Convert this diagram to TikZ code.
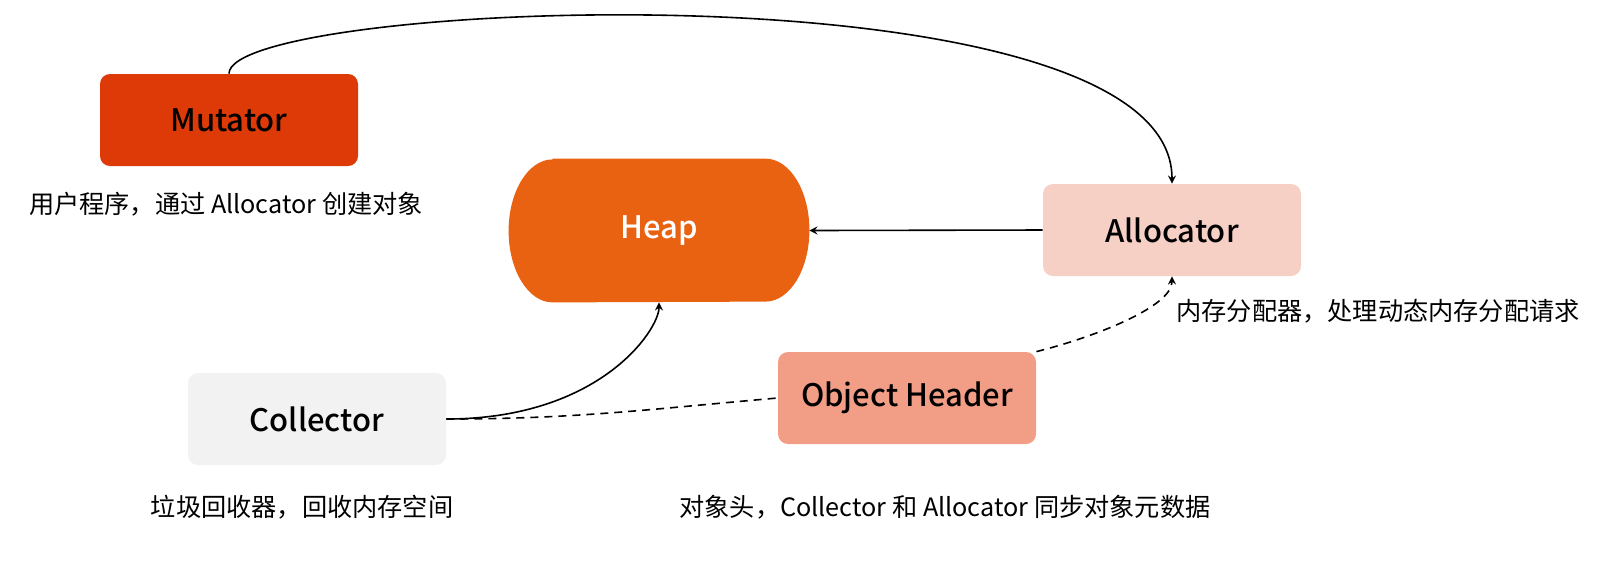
\documentclass[tikz,border=0pt]{standalone}
\usepackage{fontspec}
\setmainfont{Noto Sans CJK SC}
\newfontfamily\boxfont{Noto Sans CJK SC Medium}
\usetikzlibrary{backgrounds}

\definecolor{mutatorc}{HTML}{DD3A08}
\definecolor{heapc}{HTML}{E86212}
\definecolor{allocc}{HTML}{F6D0C5}
\definecolor{collectc}{HTML}{F2F2F2}
\definecolor{headerc}{HTML}{F29E86}

\begin{document}
\begin{tikzpicture}[x=0.5pt,y=0.5pt,>=stealth,
  box/.style={rounded corners=5pt,minimum width=129pt,minimum height=46pt,
    font=\fontsize{15.5}{18}\boxfont},
  note/.style={font=\fontsize{12.6}{15}\selectfont},
  link/.style={line width=0.8pt},
  weak/.style={line width=0.8pt,dash pattern=on 4pt off 3pt}]

  \useasboundingbox (0,0) rectangle (1600,-570);

  \node[box,fill=mutatorc] (mutator) at (229,-120) {Mutator};
  \node[box,fill=allocc] (alloc) at (1172,-230) {Allocator};
  \node[box,fill=collectc] (collector) at (317,-419) {Collector};
  \node[box,fill=headerc] (header) at (907,-398) {Object Header};

  \node[inner sep=0pt,minimum width=150pt,minimum height=71.5pt,text=white,
    font=\fontsize{15.5}{18}\boxfont] (heap) at (659,-230.5) {Heap};
  \begin{scope}[on background layer]
    \fill[heapc] ([xshift=22pt]heap.north west) -- ([xshift=-22pt]heap.north east)
      arc[start angle=90,end angle=-90,x radius=22pt,y radius=35.75pt]
      -- ([xshift=22pt]heap.south west)
      arc[start angle=270,end angle=90,x radius=22pt,y radius=35.75pt] -- cycle;
  \end{scope}

  \node[note] (mutatornote) at (226,-204) {用户程序，通过 Allocator 创建对象};
  \node[note] (allocnote) at (1378,-311) {内存分配器，处理动态内存分配请求};
  \node[note] (collectornote) at (302,-507) {垃圾回收器，回收内存空间};
  \node[note] (headernote) at (945,-507) {对象头，Collector 和 Allocator 同步对象元数据};

  \draw[link,->] (mutator.north) .. controls +(0,74) and +(0,224) .. (alloc.north); %% mutator -> allocator
  \draw[link,->] (alloc.west) -- (heap.east); %% allocator -> heap
  \draw[link,->] (collector.east) .. controls +(154,0) and +(0,-27) .. (heap.south); %% collector -> heap
  \draw[weak] (collector.east) to[out=0,in=185] (header.west);
  \draw[weak,->] (header.north east) .. controls +(60,15) and +(0,-30) .. (alloc.south); %% header -> allocator

\end{tikzpicture}
\end{document}
